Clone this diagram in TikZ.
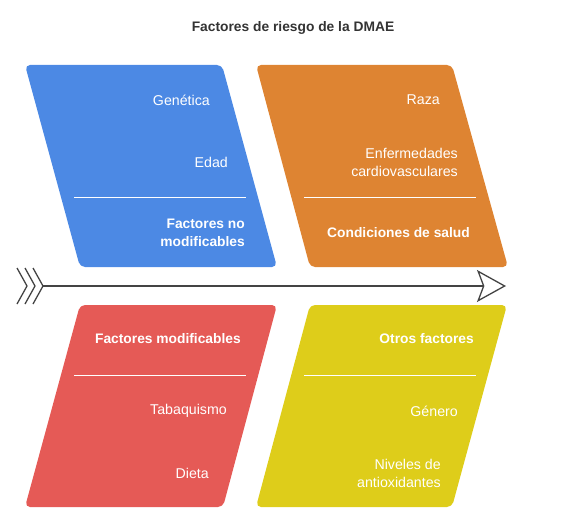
\documentclass[tikz,border=0pt]{standalone}
\usepackage{fontspec}
\setmainfont{Liberation Sans}
\usetikzlibrary{arrows.meta}

\definecolor{boxblue}{RGB}{76,137,228}
\definecolor{boxorange}{RGB}{222,132,50}
\definecolor{boxred}{RGB}{229,90,86}
\definecolor{boxyellow}{RGB}{222,205,26}
\definecolor{spine}{RGB}{68,68,68}

\tikzset{
  factorbox/.style={rounded corners=5pt},
  itemtext/.style={text=white, anchor=east, align=right, inner sep=0pt,
    font=\fontsize{14.2}{18}\selectfont},
  headtext/.style={itemtext, font=\fontsize{13.8}{18}\selectfont\bfseries},
  divider/.style={white, line width=1pt}
}

\begin{document}
\begin{tikzpicture}[x=1pt,y=-1pt]
\useasboundingbox (0,0) rectangle (587,527);

% Title
\node[font=\fontsize{13.8}{16}\selectfont\bfseries, text=black!80] (title) at (293,28) {Factores de riesgo de la DMAE};

% Factores no modificables
\fill[boxblue, factorbox] (25,65) -- (222,65) -- (277,267) -- (80,267) -- cycle;
\draw[divider] (74,197) -- (246,197);
\node[itemtext] (genetica) at (210,100) {Genética};
\node[itemtext] (edad) at (228,162) {Edad};
\node[headtext] (nomod) at (245,233) {Factores no\\modificables};

% Condiciones de salud
\fill[boxorange, factorbox] (256,65) -- (452,65) -- (508,267) -- (310,267) -- cycle;
\draw[divider] (304,197) -- (476,197);
\node[itemtext] (raza) at (440,100) {Raza};
\node[itemtext] (enfermedades) at (458,162) {Enfermedades\\cardiovasculares};
\node[headtext] (salud) at (470,233) {Condiciones de salud};

% Factores modificables
\fill[boxred, factorbox] (80,305) -- (277,305) -- (223,507) -- (25,507) -- cycle;
\draw[divider] (74,375) -- (246,375);
\node[headtext] (mod) at (241,339) {Factores modificables};
\node[itemtext] (tabaco) at (227,411) {Tabaquismo};
\node[itemtext] (dieta) at (209,473) {Dieta};

% Otros factores
\fill[boxyellow, factorbox] (310,305) -- (507,305) -- (452,507) -- (256,507) -- cycle;
\draw[divider] (304,375) -- (476,375);
\node[headtext] (otros) at (474,339) {Otros factores};
\node[itemtext] (genero) at (458,411) {Género};
\node[itemtext] (antiox) at (441,473) {Niveles de\\antioxidantes};

% Spine
\coordinate (tail) at (43,286);
\coordinate (head) at (506,286);
\draw[spine, line width=1.3pt, -{Stealth[open, length=29pt, width=32pt, inset=6pt]}] (tail) -- (head);
\foreach \dx in {0,8,16}
  \draw[spine, line width=1.3pt] (17+\dx,268) -- (27+\dx,286) -- (17+\dx,304);

\end{tikzpicture}
\end{document}
